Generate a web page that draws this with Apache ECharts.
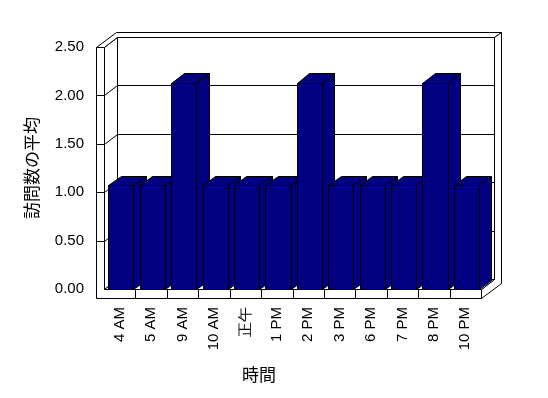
<!DOCTYPE html>
<html>
<head>
<meta charset="utf-8">
<script src="https://cdn.jsdelivr.net/npm/echarts@6/dist/echarts.min.js"></script>
<style>
html,body{margin:0;padding:0;background:#fff;}
#chart{width:548px;height:398px;}
</style>
</head>
<body>
<div id="chart"></div>
<script>
// ---- data ----
const categories = ['4 AM', '5 AM', '9 AM', '10 AM', '正午', '1 PM', '2 PM', '3 PM', '6 PM', '7 PM', '8 PM', '10 PM'];
const visitAverages = [1.07, 1.07, 2.13, 1.07, 1.07, 1.07, 2.13, 1.07, 1.07, 1.07, 2.13, 1.07];
const yTicks = [0, 0.5, 1, 1.5, 2, 2.5];
const xTitle = '時間';
const yTitle = '訪問数の平均';

// ---- style constants ----
const DX = 13, DY = -10;     // floor depth (front edge -> back wall)
const TX = 6.5, TY = -5;     // back wall thickness
const WALL = 8;              // side wall thickness
const FLOOR = 9;             // floor thickness
const BDX = 12.4, BDY = -9.5; // bar depth
const NAVY = '#000080';
const LATIN = 'Liberation Sans';
const CJK = 'Noto Sans CJK JP';

function px(v) { return Math.round(v) + 0.5; }
function pt(x, y) { return [px(x), px(y)]; }
function poly(points, fill) {
  return { type: 'polygon', shape: { points: points }, style: { fill: fill, stroke: '#000', lineWidth: 1 } };
}
function line(a, b) {
  return { type: 'polyline', shape: { points: [a, b] }, style: { fill: null, stroke: '#000', lineWidth: 1 } };
}

function renderWalls(params, api) {
  const cs = params.coordSys;
  const x0 = cs.x, x1 = cs.x + cs.width;
  const yMax = yTicks[yTicks.length - 1];
  const y0 = api.coord([0, 0])[1];
  const yT = api.coord([0, yMax])[1];
  const w = api.size([1, 0])[0];
  const ch = [];
  // back wall inner face
  ch.push(poly([pt(x0 + DX, yT + DY), pt(x1 + DX, yT + DY), pt(x1 + DX, y0 + DY), pt(x0 + DX, y0 + DY)], '#fff'));
  // top face of side wall + back wall
  ch.push(poly([
    pt(x0 - WALL, yT), pt(x0, yT), pt(x0 + DX, yT + DY), pt(x1 + DX, yT + DY),
    pt(x1 + DX + TX, yT + DY + TY), pt(x0 - WALL + DX + TX, yT + DY + TY)
  ], '#fff'));
  // right end face of back wall + floor
  ch.push(poly([
    pt(x1 + DX, yT + DY), pt(x1 + DX + TX, yT + DY + TY), pt(x1 + DX + TX, y0 + FLOOR + DY + TY),
    pt(x1, y0 + FLOOR), pt(x1, y0), pt(x1 + DX, y0 + DY)
  ], '#fff'));
  // side wall inner face
  ch.push(poly([pt(x0, yT), pt(x0 + DX, yT + DY), pt(x0 + DX, y0 + DY), pt(x0, y0)], '#fff'));
  // floor top
  ch.push(poly([pt(x0, y0), pt(x1, y0), pt(x1 + DX, y0 + DY), pt(x0 + DX, y0 + DY)], '#fff'));
  // front face (L shape) of side wall + floor
  ch.push(poly([
    pt(x0 - WALL, yT), pt(x0, yT), pt(x0, y0), pt(x1, y0), pt(x1, y0 + FLOOR), pt(x0 - WALL, y0 + FLOOR)
  ], '#fff'));
  // gridlines + ticks
  yTicks.forEach(function (v) {
    if (v <= 0 || v >= yMax) return;
    const y = api.coord([0, v])[1];
    ch.push(line(pt(x0, y), pt(x0 + DX, y + DY)));
    ch.push(line(pt(x0 + DX, y + DY), pt(x1 + DX, y + DY)));
    ch.push(line(pt(x0 - WALL, y), pt(x0, y)));
  });
  // category ticks on floor front
  for (let k = 1; k < categories.length; k++) {
    const x = x0 + k * w;
    ch.push(line(pt(x, y0), pt(x, y0 + FLOOR)));
  }
  return { type: 'group', children: ch };
}

function renderBar(params, api) {
  const i = api.value(0);
  const c = api.coord([i, api.value(1)]);
  const b = api.coord([i, 0]);
  const w = api.size([1, 0])[0];
  const left = c[0] - w / 2 + w * 0.137;
  const right = left + w * 0.8;
  const top = c[1], bot = b[1];
  return {
    type: 'group',
    children: [
      poly([pt(right, top), pt(right + BDX, top + BDY), pt(right + BDX, bot + BDY), pt(right, bot)], NAVY),
      poly([pt(left, top), pt(left + BDX, top + BDY), pt(right + BDX, top + BDY), pt(right, top)], NAVY),
      poly([pt(left, top), pt(right, top), pt(right, bot), pt(left, bot)], NAVY)
    ]
  };
}

const chart = echarts.init(document.getElementById('chart'), null, { renderer: 'canvas' });
chart.setOption({
  animation: false,
  backgroundColor: '#fff',
  grid: { left: 104, right: 67, top: 47, bottom: 109, containLabel: false },
  xAxis: {
    type: 'category',
    data: categories,
    boundaryGap: true,
    axisLine: { show: false },
    axisTick: { show: false },
    splitLine: { show: false },
    axisLabel: { rotate: 90, margin: 18, interval: 0, color: '#000', fontFamily: LATIN, fontSize: 15 }
  },
  yAxis: {
    type: 'value',
    min: 0, max: 2.5, interval: 0.5,
    axisLine: { show: false },
    axisTick: { show: false },
    splitLine: { show: false },
    axisLabel: { margin: 20, color: '#000', fontFamily: LATIN, fontSize: 15, formatter: function (v) { return v.toFixed(2); } },
    name: yTitle,
    nameLocation: 'middle',
    nameRotate: 90,
    nameGap: 64,
    nameTextStyle: { color: '#000', fontFamily: CJK, fontSize: 17 }
  },
  graphic: [{
    type: 'text', left: 259 - 17, top: 366,
    style: { text: xTitle, fill: '#000', font: '17px "' + CJK + '"' }
  }],
  series: [
    { type: 'custom', data: [[0, 0]], renderItem: renderWalls, z: 1, silent: true },
    { type: 'custom', data: visitAverages.map(function (v, i) { return [i, v]; }), encode: { x: 0, y: 1 }, renderItem: renderBar, z: 2 }
  ]
});
</script>
</body>
</html>
